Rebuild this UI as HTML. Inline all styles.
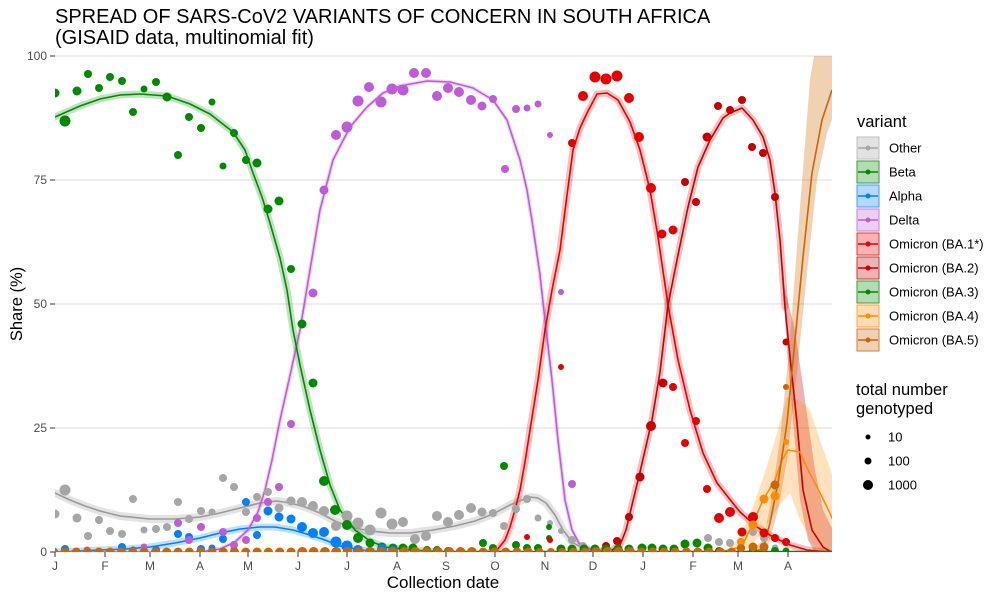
<!DOCTYPE html>
<html><head><meta charset="utf-8"><style>
html,body{margin:0;padding:0;background:#fff;}
svg{display:block;font-family:"Liberation Sans",Arial,sans-serif;}
</style></head><body>
<svg width="1000" height="600" viewBox="0 0 1000 600" xmlns="http://www.w3.org/2000/svg">
<rect width="1000" height="600" fill="#fff"/>
<defs><clipPath id="c"><rect x="55" y="56" width="777" height="496"/></clipPath></defs>

<text x="55" y="23" font-size="20" fill="#000">SPREAD OF SARS-CoV2 VARIANTS OF CONCERN IN SOUTH AFRICA</text>
<text x="55" y="44" font-size="20" fill="#000">(GISAID data, multinomial fit)</text>

<g stroke="#dcdcdc" stroke-width="1">
<line x1="55" x2="832" y1="56" y2="56"/><line x1="55" x2="832" y1="180" y2="180"/>
<line x1="55" x2="832" y1="304" y2="304"/><line x1="55" x2="832" y1="428" y2="428"/>
<line x1="55" x2="832" y1="552" y2="552"/>
</g>
<g stroke="#333" stroke-width="1">
<line x1="50" x2="55" y1="56" y2="56"/><line x1="50" x2="55" y1="180" y2="180"/><line x1="50" x2="55" y1="304" y2="304"/><line x1="50" x2="55" y1="428" y2="428"/><line x1="50" x2="55" y1="552" y2="552"/>
<line x1="55" x2="55" y1="552" y2="557"/><line x1="105" x2="105" y1="552" y2="557"/><line x1="150" x2="150" y1="552" y2="557"/><line x1="200" x2="200" y1="552" y2="557"/><line x1="248" x2="248" y1="552" y2="557"/><line x1="298" x2="298" y1="552" y2="557"/><line x1="347" x2="347" y1="552" y2="557"/><line x1="397" x2="397" y1="552" y2="557"/><line x1="446" x2="446" y1="552" y2="557"/><line x1="495" x2="495" y1="552" y2="557"/><line x1="545" x2="545" y1="552" y2="557"/><line x1="593" x2="593" y1="552" y2="557"/><line x1="643" x2="643" y1="552" y2="557"/><line x1="693" x2="693" y1="552" y2="557"/><line x1="738" x2="738" y1="552" y2="557"/><line x1="788" x2="788" y1="552" y2="557"/>
</g>
<g font-size="12" fill="#4d4d4d" text-anchor="end">
<text x="47" y="60">100</text><text x="47" y="184">75</text><text x="47" y="308">50</text><text x="47" y="432">25</text><text x="47" y="556">0</text>
</g>
<g font-size="12" fill="#4d4d4d" text-anchor="middle">
<text x="55" y="570">J</text><text x="105" y="570">F</text><text x="150" y="570">M</text><text x="200" y="570">A</text><text x="248" y="570">M</text><text x="298" y="570">J</text><text x="347" y="570">J</text><text x="397" y="570">A</text><text x="446" y="570">S</text><text x="495" y="570">O</text><text x="545" y="570">N</text><text x="593" y="570">D</text><text x="643" y="570">J</text><text x="693" y="570">F</text><text x="738" y="570">M</text><text x="788" y="570">A</text>
</g>
<text x="443" y="588" font-size="17" text-anchor="middle" fill="#000">Collection date</text>
<text transform="translate(22,304) rotate(-90)" font-size="16.5" text-anchor="middle" fill="#000">Share (%)</text>

<g clip-path="url(#c)">
<!-- bands -->
<g fill="none" stroke-linejoin="round" stroke-linecap="round">
<polyline stroke="#999" stroke-opacity="0.28" stroke-width="8" points="55,493 70,500 85,506 100,511 120,516 150,519 175,519 200,517 220,513 240,508 260,503 277,501 290,503 305,507 320,513 335,521 350,527 370,531 390,533 410,533 433,530 455,526 475,521 493,514 510,505 522,500 530,497 538,498 546,503 555,515 563,530 572,542 582,548 595,551 620,552"/>
<polyline stroke="#008a00" stroke-opacity="0.25" stroke-width="7" points="55,117 80,106 100,99 120,95 140,94 167,96 190,104 210,114 233,132 245,150 253,173 262,197 270,223 280,258 287,290 293,330 300,365 310,410 320,450 330,485 340,510 355,530 370,541 385,547 410,550 440,552"/>
<polyline stroke="#0080ff" stroke-opacity="0.25" stroke-width="7" points="55,552 80,551 100,550 125,549 150,547 175,543 200,538 220,533 240,529 260,527 275,527 293,530 310,535 325,540 340,546 355,549 370,551 390,552"/>
<polyline stroke="#bf5ad8" stroke-opacity="0.25" stroke-width="4" points="200,552 220,549 235,542 248,530 258,512 265,490 272,460 280,420 289,380 300,330 310,270 320,210 333,160 350,127 367,107 383,93 400,86 427,81 450,82 473,88 493,100 507,120 520,160 527,190 533,227 540,275 545,320 552,380 558,440 565,500 572,530 580,545 595,551 620,552"/>
<polyline stroke="#e60000" stroke-opacity="0.25" stroke-width="7" points="490,552 497,550 505,540 510,527 515,510 520,490 525,462 530,430 538,380 545,330 552,290 560,250 567,195 573,150 580,128 587,113 597,94 607,93 618,100 630,122 640,150 650,190 658,237 668,305 678,360 690,410 703,453 717,483 728,497 740,512 757,527 773,537 790,545 807,550 827,552"/>
<polyline stroke="#c80000" stroke-opacity="0.25" stroke-width="7" points="600,552 612,550 620,545 626,530 632,505 640,472 652,420 660,372 668,305 678,255 688,207 698,167 710,140 723,118 730,113 742,108 753,120 763,137 770,160 775,193 780,240 785,307"/>
</g>
<polygon fill="#c80000" fill-opacity="0.3" points="781,250 785,290 795,330 805,400 815,470 823,510 833,530 833,560 815,553 808,540 800,500 793,420 787,350 781,260"/>
<polygon fill="#ff8c00" fill-opacity="0.26" points="725,552 737,540 750,515 763,478 775,440 787,397 800,400 810,410 820,440 833,477 833,556 825,552 815,548 808,535 800,520 790,493 780,505 770,520 760,535 750,547 740,553"/>
<polygon fill="#cc6600" fill-opacity="0.3" points="750,552 763,540 770,507 780,440 790,340 800,207 810,80 815,50 833,50 833,117 827,133 817,180 807,273 797,373 787,460 778,510 770,540 763,553"/>

<!-- lines -->
<g fill="none" stroke-width="1.6" stroke-linejoin="round">
<polyline stroke="#999" points="55,493 70,500 85,506 100,511 120,516 150,519 175,519 200,517 220,513 240,508 260,503 277,501 290,503 305,507 320,513 335,521 350,527 370,531 390,533 410,533 433,530 455,526 475,521 493,514 510,505 522,500 530,497 538,498 546,503 555,515 563,530 572,542 582,548 595,551 620,552 833,552"/>
<polyline stroke="#0080ff" points="55,552 80,551 100,550 125,549 150,547 175,543 200,538 220,533 240,529 260,527 275,527 293,530 310,535 325,540 340,546 355,549 370,551 390,552"/>
<polyline stroke="#bf5ad8" points="55,552 200,552 220,549 235,542 248,530 258,512 265,490 272,460 280,420 289,380 300,330 310,270 320,210 333,160 350,127 367,107 383,93 400,86 427,81 450,82 473,88 493,100 507,120 520,160 527,190 533,227 540,275 545,320 552,380 558,440 565,500 572,530 580,545 595,551 620,552"/>
<polyline stroke="#e60000" points="490,552 497,550 505,540 510,527 515,510 520,490 525,462 530,430 538,380 545,330 552,290 560,250 567,195 573,150 580,128 587,113 597,94 607,93 618,100 630,122 640,150 650,190 658,237 668,305 678,360 690,410 703,453 717,483 728,497 740,512 757,527 773,537 790,545 807,550 827,552 833,552"/>
<polyline stroke="#c80000" points="600,552 612,550 620,545 626,530 632,505 640,472 652,420 660,372 668,305 678,255 688,207 698,167 710,140 723,118 730,113 742,108 753,120 763,137 770,160 775,193 780,240 785,307 790,357 797,423 803,490 812,530 823,547 833,553"/>
<polyline stroke="#ff8c00" points="720,552 737,548 745,540 753,523 763,500 775,480 782,460 788,450 800,452 808,470 817,487 825,503 833,520"/>
<polyline stroke="#cc6600" points="740,552 755,551 763,549 770,523 778,483 787,423 795,340 803,257 812,173 822,120 832,90"/>
<polyline stroke="#008a00" points="55,117 80,106 100,99 120,95 140,94 167,96 190,104 210,114 233,132 245,150 253,173 262,197 270,223 280,258 287,290 293,330 300,365 310,410 320,450 330,485 340,510 355,530 370,541 385,547 410,550 440,551.5 833,551.5"/>
</g>

<!-- Other points -->
<g fill="#a6a6a6">
<circle cx="55" cy="514" r="4.5"/><circle cx="65" cy="490" r="5.5"/><circle cx="77" cy="518" r="4.5"/><circle cx="88" cy="536" r="4"/><circle cx="99" cy="520" r="4"/><circle cx="110" cy="531" r="4"/><circle cx="122" cy="534" r="4"/><circle cx="133" cy="499" r="4"/><circle cx="144" cy="530" r="3.5"/><circle cx="156" cy="529" r="4"/><circle cx="167" cy="527" r="4"/><circle cx="178" cy="502" r="4"/><circle cx="189" cy="519" r="4"/><circle cx="201" cy="511" r="4"/><circle cx="212" cy="512" r="3.5"/><circle cx="223" cy="478" r="4"/><circle cx="234" cy="487" r="4"/><circle cx="246" cy="512" r="4"/><circle cx="257" cy="497" r="4"/><circle cx="268" cy="492" r="4"/><circle cx="279" cy="508" r="4.5"/><circle cx="291" cy="501" r="4.5"/><circle cx="302" cy="502" r="5"/><circle cx="313" cy="506" r="5"/><circle cx="324" cy="511" r="5"/><circle cx="336" cy="526" r="5"/><circle cx="347" cy="516" r="5.5"/><circle cx="358" cy="523" r="5.5"/><circle cx="370" cy="530" r="5.5"/><circle cx="381" cy="513" r="5.5"/><circle cx="392" cy="524" r="5.5"/><circle cx="403" cy="522" r="5"/><circle cx="415" cy="539" r="5"/><circle cx="426" cy="536" r="5"/><circle cx="437" cy="516" r="5"/><circle cx="448" cy="522" r="5"/><circle cx="459" cy="515" r="5"/><circle cx="471" cy="508" r="5"/><circle cx="482" cy="512" r="4.5"/><circle cx="493" cy="513" r="4"/><circle cx="504" cy="526" r="4"/><circle cx="516" cy="509" r="4"/><circle cx="527" cy="499" r="4"/><circle cx="538" cy="518" r="3.5"/><circle cx="550" cy="523" r="3"/><circle cx="561" cy="531" r="3"/><circle cx="572" cy="540" r="4"/><circle cx="583" cy="546" r="4"/>
<circle cx="708" cy="538" r="4"/><circle cx="719" cy="542" r="4"/><circle cx="730" cy="543" r="4"/><circle cx="753" cy="532" r="4"/><circle cx="764" cy="538" r="4"/><circle cx="775" cy="548" r="3.5"/>
</g>
<!-- Beta points -->
<g fill="#008a00">
<circle cx="55" cy="93" r="4.5"/><circle cx="65" cy="121" r="5.5"/><circle cx="77" cy="91" r="4.5"/><circle cx="88" cy="74" r="4"/><circle cx="99" cy="88" r="4"/><circle cx="110" cy="77" r="4"/><circle cx="122" cy="81" r="4"/><circle cx="133" cy="112" r="4"/><circle cx="144" cy="89" r="3.5"/><circle cx="156" cy="82" r="4"/><circle cx="167" cy="97" r="4.5"/><circle cx="178" cy="155" r="4"/><circle cx="189" cy="117" r="4"/><circle cx="201" cy="128" r="4"/><circle cx="212" cy="102" r="3.5"/><circle cx="223" cy="166" r="3.5"/><circle cx="234" cy="133" r="4"/><circle cx="246" cy="160" r="4"/><circle cx="257" cy="163" r="4.5"/><circle cx="268" cy="209" r="4.5"/><circle cx="279" cy="201" r="4.5"/><circle cx="291" cy="269" r="4"/><circle cx="302" cy="324" r="4.5"/><circle cx="313" cy="383" r="4.5"/><circle cx="324" cy="481" r="5"/><circle cx="335" cy="510" r="5"/><circle cx="347" cy="525" r="5"/><circle cx="358" cy="538" r="5"/><circle cx="370" cy="543" r="4.5"/><circle cx="382" cy="547" r="4.5"/><circle cx="393" cy="548" r="4.5"/><circle cx="403" cy="548" r="4.5"/><circle cx="413" cy="548" r="4.5"/><circle cx="427" cy="550" r="4"/><circle cx="437" cy="550" r="4"/><circle cx="448" cy="551" r="4"/><circle cx="483" cy="543" r="4"/><circle cx="493" cy="548" r="4"/><circle cx="504" cy="466" r="4"/><circle cx="516" cy="545" r="4"/><circle cx="527" cy="548" r="4"/><circle cx="538" cy="548" r="4"/><circle cx="549" cy="527" r="3"/><circle cx="549" cy="538" r="3"/>
</g>
<!-- Alpha points -->
<g fill="#0080ff">
<circle cx="65" cy="549" r="4"/><circle cx="122" cy="547" r="4"/><circle cx="133" cy="550" r="3.5"/><circle cx="156" cy="550" r="4"/><circle cx="178" cy="534" r="4"/><circle cx="189" cy="537" r="4"/><circle cx="201" cy="549" r="4"/><circle cx="212" cy="548" r="3.5"/><circle cx="223" cy="539" r="4"/><circle cx="234" cy="549" r="3.5"/><circle cx="246" cy="502" r="4"/><circle cx="257" cy="535" r="4"/><circle cx="268" cy="511" r="4.5"/><circle cx="279" cy="517" r="4.5"/><circle cx="291" cy="519" r="4.5"/><circle cx="302" cy="527" r="5"/><circle cx="313" cy="533" r="5"/><circle cx="324" cy="532" r="5"/><circle cx="336" cy="542" r="5.5"/><circle cx="347" cy="546" r="5.5"/><circle cx="358" cy="550" r="5"/><circle cx="370" cy="552" r="5"/><circle cx="382" cy="549" r="5"/><circle cx="393" cy="551" r="5"/>
</g>
<!-- Delta points -->
<g fill="#bf5ad8">
<circle cx="87" cy="550" r="3.5"/><circle cx="144" cy="547" r="3.5"/><circle cx="178" cy="523" r="4"/><circle cx="189" cy="540" r="4"/><circle cx="201" cy="527" r="4"/><circle cx="223" cy="532" r="4"/><circle cx="234" cy="545" r="4"/><circle cx="246" cy="540" r="4"/><circle cx="257" cy="518" r="4"/><circle cx="268" cy="502" r="4"/><circle cx="279" cy="487" r="4"/><circle cx="291" cy="424" r="4"/><circle cx="313" cy="293" r="4.5"/><circle cx="324" cy="190" r="4.5"/><circle cx="336" cy="135" r="5"/><circle cx="347" cy="127" r="5.5"/><circle cx="358" cy="101" r="5.5"/><circle cx="369" cy="87" r="5"/><circle cx="381" cy="102" r="5.5"/><circle cx="392" cy="89" r="5.5"/><circle cx="403" cy="90" r="5.5"/><circle cx="414" cy="73" r="5"/><circle cx="426" cy="73" r="5"/><circle cx="437" cy="96" r="5"/><circle cx="448" cy="88" r="5"/><circle cx="459" cy="92" r="5"/><circle cx="471" cy="100" r="5"/><circle cx="482" cy="106" r="4.5"/><circle cx="493" cy="99" r="4"/><circle cx="505" cy="169" r="4"/><circle cx="516" cy="109" r="4"/><circle cx="527" cy="108" r="3.5"/><circle cx="538" cy="104" r="3.5"/><circle cx="550" cy="135" r="3"/><circle cx="561" cy="292" r="3"/><circle cx="572" cy="484" r="4"/>
</g>
<!-- BA.1 points -->
<g fill="#e60000">
<circle cx="527" cy="537" r="3"/><circle cx="550" cy="540" r="3"/><circle cx="561" cy="367" r="3"/><circle cx="572" cy="143" r="4"/><circle cx="583" cy="96" r="5"/><circle cx="595" cy="77" r="5.5"/><circle cx="606" cy="79" r="5.5"/><circle cx="617" cy="76" r="5.5"/><circle cx="629" cy="98" r="5"/><circle cx="639" cy="137" r="5"/><circle cx="651" cy="188" r="5"/><circle cx="662" cy="234" r="4.5"/><circle cx="673" cy="230" r="4.5"/><circle cx="673" cy="387" r="4"/><circle cx="685" cy="443" r="4"/><circle cx="696" cy="421" r="4"/><circle cx="707" cy="489" r="4"/><circle cx="719" cy="518" r="5"/><circle cx="730" cy="512" r="5"/><circle cx="742" cy="532" r="4.5"/><circle cx="753" cy="517" r="5"/><circle cx="764" cy="533" r="4.5"/><circle cx="775" cy="538" r="4"/><circle cx="786" cy="542" r="4"/>
</g>
<!-- BA.2 points -->
<g fill="#c80000">
<circle cx="606" cy="546" r="4"/><circle cx="617" cy="541" r="4"/><circle cx="629" cy="517" r="4"/><circle cx="640" cy="477" r="4.5"/><circle cx="651" cy="426" r="5"/><circle cx="663" cy="383" r="4.5"/><circle cx="685" cy="182" r="4"/><circle cx="696" cy="202" r="4"/><circle cx="707" cy="137" r="4.5"/><circle cx="718" cy="106" r="4"/><circle cx="730" cy="110" r="4"/><circle cx="742" cy="100" r="4"/><circle cx="752" cy="147" r="4"/><circle cx="763" cy="153" r="4"/><circle cx="775" cy="197" r="4"/><circle cx="786" cy="342" r="3.5"/>
</g>
<!-- BA.3 row -->
<g fill="#008a00">
<circle cx="561" cy="549" r="4.5"/><circle cx="572" cy="549" r="4.5"/><circle cx="584" cy="549" r="4.5"/><circle cx="595" cy="549" r="4.5"/><circle cx="606" cy="549" r="4.5"/><circle cx="618" cy="549" r="4.5"/><circle cx="629" cy="549" r="4.5"/><circle cx="642" cy="548" r="4.5"/><circle cx="652" cy="548" r="4.5"/><circle cx="663" cy="549" r="4.5"/><circle cx="674" cy="549" r="4.5"/><circle cx="685" cy="544" r="4.5"/><circle cx="697" cy="543" r="4.5"/><circle cx="708" cy="548" r="4.5"/><circle cx="719" cy="551" r="4"/><circle cx="741" cy="548" r="4"/><circle cx="753" cy="550" r="4"/><circle cx="764" cy="548" r="4"/><circle cx="775" cy="551" r="4"/><circle cx="786" cy="551" r="3.5"/>
</g>
<!-- BA.4 points -->
<g fill="#ff8c00">
<circle cx="741" cy="542" r="4"/><circle cx="753" cy="525" r="4.5"/><circle cx="764" cy="499" r="4.5"/><circle cx="775" cy="496" r="4.5"/><circle cx="786" cy="442" r="3"/>
</g>
<!-- BA.5 points -->
<g fill="#cc6600">
<circle cx="741" cy="548" r="4"/><circle cx="753" cy="547" r="4.5"/><circle cx="764" cy="547" r="4.5"/><circle cx="775" cy="485" r="4.5"/><circle cx="786" cy="387" r="3"/>
<circle cx="53.7" cy="552" r="4.5"/><circle cx="65" cy="552" r="4.5"/><circle cx="76.3" cy="552" r="4.5"/><circle cx="87.6" cy="552" r="4.5"/><circle cx="98.9" cy="552" r="4.5"/><circle cx="110.2" cy="552" r="4.5"/><circle cx="121.5" cy="552" r="4.5"/><circle cx="132.8" cy="552" r="4.5"/><circle cx="144.1" cy="552" r="4.5"/><circle cx="155.4" cy="552" r="4.5"/><circle cx="166.7" cy="552" r="4.5"/><circle cx="178" cy="552" r="4.5"/><circle cx="189.3" cy="552" r="4.5"/><circle cx="200.6" cy="552" r="4.5"/><circle cx="211.9" cy="552" r="4.5"/><circle cx="223.2" cy="552" r="4.5"/><circle cx="234.5" cy="552" r="4.5"/><circle cx="245.8" cy="552" r="4.5"/><circle cx="257.1" cy="552" r="4.5"/><circle cx="268.4" cy="552" r="4.5"/><circle cx="279.7" cy="552" r="4.5"/><circle cx="291" cy="552" r="4.5"/><circle cx="302.3" cy="552" r="5"/><circle cx="313.6" cy="552" r="5"/><circle cx="324.9" cy="552" r="5"/><circle cx="336.2" cy="552" r="5"/><circle cx="347.5" cy="552" r="5"/><circle cx="358.8" cy="552" r="5"/><circle cx="370.1" cy="552" r="5"/><circle cx="381.4" cy="552" r="5"/><circle cx="392.7" cy="552" r="5"/><circle cx="404" cy="552" r="5"/><circle cx="415.3" cy="552" r="5"/><circle cx="426.6" cy="552" r="5"/><circle cx="437.9" cy="552" r="5"/><circle cx="449.2" cy="552" r="5"/><circle cx="460.5" cy="552" r="5"/><circle cx="471.8" cy="552" r="5"/><circle cx="483.1" cy="552" r="4.5"/><circle cx="494.4" cy="552" r="4.5"/><circle cx="505.7" cy="552" r="4.5"/><circle cx="517" cy="552" r="4.5"/><circle cx="528.3" cy="552" r="4.5"/><circle cx="539.6" cy="552" r="4"/><circle cx="550.9" cy="552" r="4"/><circle cx="562.2" cy="552" r="4"/><circle cx="573.5" cy="552" r="4.5"/><circle cx="584.8" cy="552" r="4.5"/><circle cx="596.1" cy="552" r="5"/><circle cx="607.4" cy="552" r="5"/><circle cx="618.7" cy="552" r="5"/><circle cx="630" cy="552" r="5"/><circle cx="641.3" cy="552" r="4.5"/><circle cx="652.6" cy="552" r="4.5"/><circle cx="663.9" cy="552" r="4.5"/><circle cx="675.2" cy="552" r="4.5"/><circle cx="686.5" cy="552" r="4.5"/><circle cx="697.8" cy="552" r="4.5"/><circle cx="709.1" cy="552" r="4.5"/><circle cx="720.4" cy="552" r="4.5"/><circle cx="731.7" cy="552" r="4.5"/>
</g>
</g>

<!-- Legend: variant -->
<text x="857" y="127" font-size="16.5" fill="#000">variant</text>
<g stroke-width="1">
<rect x="857" y="137" width="22" height="22" fill="#e2e2e2" stroke="#bdbdbd"/>
<rect x="857" y="161" width="22" height="22" fill="#b3dcb3" stroke="#3a9a3a"/>
<rect x="857" y="185" width="22" height="22" fill="#b3d9ff" stroke="#3d9bff"/>
<rect x="857" y="209" width="22" height="22" fill="#ecd0f3" stroke="#c87ddc"/>
<rect x="857" y="233" width="22" height="22" fill="#f7b3b3" stroke="#e63333"/>
<rect x="857" y="257" width="22" height="22" fill="#eeb3b3" stroke="#cc3333"/>
<rect x="857" y="281" width="22" height="22" fill="#b3dcb3" stroke="#3a9a3a"/>
<rect x="857" y="305" width="22" height="22" fill="#ffdcb3" stroke="#ffa33d"/>
<rect x="857" y="329" width="22" height="22" fill="#f0d1b3" stroke="#cf7d33"/>
</g>
<g stroke-width="1.5">
<line x1="858" x2="878" y1="148" y2="148" stroke="#a6a6a6"/>
<line x1="858" x2="878" y1="172" y2="172" stroke="#008a00"/>
<line x1="858" x2="878" y1="196" y2="196" stroke="#0080ff"/>
<line x1="858" x2="878" y1="220" y2="220" stroke="#bf5ad8"/>
<line x1="858" x2="878" y1="244" y2="244" stroke="#e60000"/>
<line x1="858" x2="878" y1="268" y2="268" stroke="#c80000"/>
<line x1="858" x2="878" y1="292" y2="292" stroke="#008a00"/>
<line x1="858" x2="878" y1="316" y2="316" stroke="#ff8c00"/>
<line x1="858" x2="878" y1="340" y2="340" stroke="#cc6600"/>
</g>
<circle cx="868" cy="148" r="2.5" fill="#a6a6a6"/>
<circle cx="868" cy="172" r="2.5" fill="#008a00"/>
<circle cx="868" cy="196" r="2.5" fill="#0080ff"/>
<circle cx="868" cy="220" r="2.5" fill="#bf5ad8"/>
<circle cx="868" cy="244" r="2.5" fill="#e60000"/>
<circle cx="868" cy="268" r="2.5" fill="#c80000"/>
<circle cx="868" cy="292" r="2.5" fill="#008a00"/>
<circle cx="868" cy="316" r="2.5" fill="#ff8c00"/>
<circle cx="868" cy="340" r="2.5" fill="#cc6600"/>
<g font-size="13" fill="#000">
<text x="889" y="152.5">Other</text>
<text x="889" y="176.5">Beta</text>
<text x="889" y="200.5">Alpha</text>
<text x="889" y="224.5">Delta</text>
<text x="889" y="248.5">Omicron (BA.1*)</text>
<text x="889" y="272.5">Omicron (BA.2)</text>
<text x="889" y="296.5">Omicron (BA.3)</text>
<text x="889" y="320.5">Omicron (BA.4)</text>
<text x="889" y="344.5">Omicron (BA.5)</text>
</g>

<!-- Legend: size -->
<text x="856" y="395" font-size="16.5" fill="#000">total number</text>
<text x="856" y="414" font-size="16.5" fill="#000">genotyped</text>
<circle cx="868" cy="437" r="2.5" fill="#000"/>
<circle cx="868" cy="461" r="3.5" fill="#000"/>
<circle cx="868" cy="485" r="5" fill="#000"/>
<g font-size="13" fill="#000">
<text x="888" y="441.5">10</text>
<text x="888" y="465.5">100</text>
<text x="888" y="489.5">1000</text>
</g>
</svg>
</body></html>
